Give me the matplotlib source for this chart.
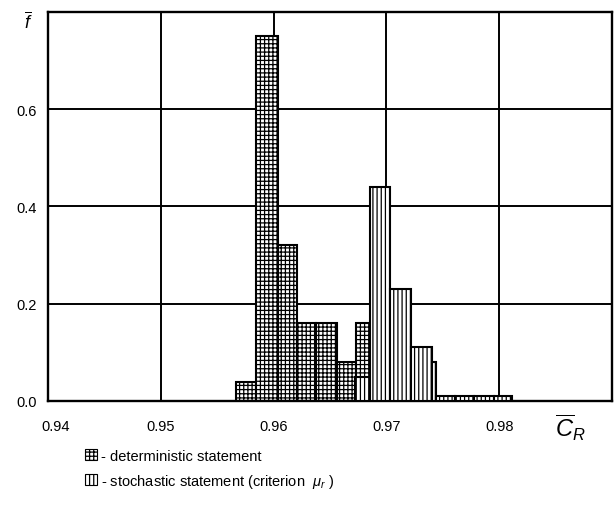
import numpy as np
import matplotlib
matplotlib.use("Agg")
import matplotlib.pyplot as plt
from matplotlib.patches import Patch
from matplotlib.transforms import ScaledTranslation

plt.rcParams['font.family'] = ['Liberation Sans', 'DejaVu Sans']
plt.rcParams['hatch.linewidth'] = 0.9
plt.rcParams['mathtext.fontset'] = 'custom'
plt.rcParams['mathtext.it'] = 'Liberation Sans:italic'
plt.rcParams['mathtext.rm'] = 'Liberation Sans'

# deterministic statement: bin edges and frequencies
det_edges = [0.9567, 0.9584, 0.9604, 0.9621, 0.9638, 0.9656, 0.9673, 0.9687]
det_freq = [0.04, 0.75, 0.32, 0.16, 0.16, 0.08, 0.16]

# stochastic statement (criterion mu_r)
sto_edges = [0.9672, 0.96855, 0.9703, 0.9722, 0.9740, 0.9744, 0.9761, 0.9778, 0.9795, 0.9811]
sto_freq = [0.05, 0.44, 0.23, 0.11, 0.08, 0.01, 0.01, 0.01, 0.01]

xticks = [0.94, 0.95, 0.96, 0.97, 0.98]
xtick_labels = ['0.94', '0.95', '0.96', '0.97', '0.98']
yticks = [0.0, 0.2, 0.4, 0.6]
ytick_labels = ['0.0', '0.2', '0.4', '0.6']

fig = plt.figure(figsize=(6.15, 5.06), dpi=100)
ax = fig.add_axes([48/615, 1-402/506, (612-48)/615, (402-12.7)/506])

ax.set_xlim(0.94, 0.99)
ax.set_ylim(0, 0.8)

# grid
for gx in np.arange(0.95, 0.985, 0.01):
    ax.axvline(gx, color='black', lw=1.4, zorder=1)
for gy in [0.2, 0.4, 0.6]:
    ax.axhline(gy, color='black', lw=1.4, zorder=1)

de = np.array(det_edges)
ax.bar(de[:-1], det_freq, width=np.diff(de), align='edge', facecolor='white',
       edgecolor='black', hatch='++++', lw=1.5, zorder=2)
se = np.array(sto_edges)
ax.bar(se[:-1], sto_freq, width=np.diff(se), align='edge', facecolor='white',
       edgecolor='black', hatch='||||', lw=1.5, zorder=3)

ax.set_xticks(xticks)
ax.set_xticklabels(xtick_labels)
ax.set_yticks(yticks)
ax.set_yticklabels(ytick_labels)
ax.tick_params(length=0, labelsize=10.5)
ax.tick_params(axis='x', pad=13)
ax.tick_params(axis='y', pad=8)
for s in ax.spines.values():
    s.set_linewidth(1.7)

# first x label sits a bit right of the spine in the original
lab0 = ax.get_xticklabels()[0]
lab0.set_transform(lab0.get_transform() + ScaledTranslation(8/100, 0, fig.dpi_scale_trans))

fig.text(28/615, 1-22/506, r'$\overline{f}$', fontsize=13, ha='center', va='center')
fig.text(570/615, 1-428/506, r'$\overline{C}_{R}$', fontsize=17, ha='center', va='center')

handles = [Patch(facecolor='white', edgecolor='black', hatch='++++', lw=0.8),
           Patch(facecolor='white', edgecolor='black', hatch='||||', lw=0.8)]
labels = ['- deterministic statement', r'- stochastic statement (criterion  $\mu_{r}$ )']
fig.legend(handles, labels, loc='upper left', bbox_to_anchor=(79/615, 1-444/506),
           frameon=False, fontsize=10.5, handlelength=0.8, handleheight=0.8,
           handletextpad=0.3, labelspacing=0.6, borderaxespad=0)

fig.savefig('out.png', dpi=100)
